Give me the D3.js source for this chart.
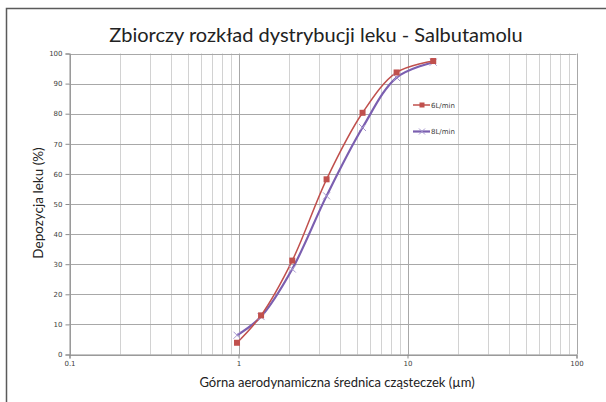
<!DOCTYPE html>
<html>
<head>
<meta charset="utf-8">
<script src="https://cdn.jsdelivr.net/npm/d3@7"></script>
<style>
body { margin: 0; background: #fff; }
</style>
</head>
<body>
<div id="chart"></div>
<script>
var sizes = [0.98, 1.36, 2.08, 3.32, 5.42, 8.62, 14.2];
var flow6 = [3.9, 13.0, 31.2, 58.2, 80.3, 93.7, 97.5];
var flow8 = [6.4, 12.6, 28.4, 52.7, 75.4, 92.0, 97.1];
var seriesNames = ["6L/min", "8L/min"];
var yTicks = [0, 10, 20, 30, 40, 50, 60, 70, 80, 90, 100];
var xTicks = [0.1, 1, 10, 100];

var svgWidth = 606;
var svgHeight = 402;
var svg = d3.select("#chart")
    .append("svg")
    .attr("width", svgWidth)
    .attr("height", svgHeight);

// outer frame (only left and top visible)
svg.append("path")
    .attr("d", "M6.5,402 L6.5,8.5 L606,8.5")
    .attr("fill", "none")
    .attr("stroke", "#5a5a5a")
    .attr("stroke-width", 1.5);

var plot = {left: 69.5, top: 53.5, right: 576.5, bottom: 354.5};

var xScale = d3.scaleLog()
    .domain([0.1, 100])
    .range([plot.left, plot.right]);
var yScale = d3.scaleLinear()
    .domain([0, 100])
    .range([plot.bottom, plot.top]);

var grid = svg.append("g");

// vertical grid at every log tick
var minor = xScale.ticks();
grid.selectAll(".vgrid").data(minor).enter()
    .append("line")
    .attr("x1", d => Math.round(xScale(d)) + 0.5)
    .attr("x2", d => Math.round(xScale(d)) + 0.5)
    .attr("y1", plot.top)
    .attr("y2", plot.bottom)
    .attr("stroke", d => xTicks.indexOf(d) >= 0 ? "#a8a8a8" : "#d2d2d2")
    .attr("stroke-width", 1);

grid.selectAll(".hgrid").data(yTicks).enter()
    .append("line")
    .attr("x1", plot.left)
    .attr("x2", plot.right)
    .attr("y1", d => Math.round(yScale(d)) + 0.5)
    .attr("y2", d => Math.round(yScale(d)) + 0.5)
    .attr("stroke", "#a8a8a8")
    .attr("stroke-width", 1);

var yAxis = d3.axisLeft(yScale)
    .tickValues(yTicks)
    .tickSize(4)
    .tickPadding(3);
var yAxisGroup = svg.append("g")
    .attr("transform", "translate(" + plot.left + ",0)")
    .call(yAxis);

var xAxis = d3.axisBottom(xScale)
    .tickValues(xTicks)
    .tickFormat(d3.format("~g"))
    .tickSize(4)
    .tickPadding(3);
var xAxisGroup = svg.append("g")
    .attr("transform", "translate(0," + plot.bottom + ")")
    .call(xAxis);

[yAxisGroup, xAxisGroup].forEach(function (g) {
    g.selectAll("path, line").attr("stroke", "#8c8c8c");
    g.selectAll("text")
        .attr("fill", "#404040")
        .style("font-family", "'DejaVu Sans', sans-serif")
        .style("font-size", "7px");
});

svg.append("text")
    .attr("x", 316)
    .attr("y", 42)
    .attr("text-anchor", "middle")
    .style("font-family", "Lato, sans-serif")
    .style("font-size", "20px")
    .attr("fill", "#222")
    .text("Zbiorczy rozkład dystrybucji leku - Salbutamolu");

svg.append("text")
    .attr("x", 337)
    .attr("y", 387)
    .attr("text-anchor", "middle")
    .style("font-family", "Lato, sans-serif")
    .style("font-size", "13px")
    .attr("fill", "#222")
    .text("Górna aerodynamiczna średnica cząsteczek (µm)");

svg.append("text")
    .attr("transform", "translate(43,203) rotate(-90)")
    .attr("text-anchor", "middle")
    .style("font-family", "Lato, sans-serif")
    .style("font-size", "13.5px")
    .attr("fill", "#222")
    .text("Depozycja leku (%)");

var line = d3.line()
    .x(d => xScale(d[0]))
    .y(d => yScale(d[1]))
    .curve(d3.curveCatmullRom.alpha(0.5));

var data6 = sizes.map((s, i) => [s, flow6[i]]);
var data8 = sizes.map((s, i) => [s, flow8[i]]);

svg.append("path")
    .datum(data8)
    .attr("d", line)
    .attr("fill", "none")
    .attr("stroke", "#7b5fb0")
    .attr("stroke-width", 2.2);

svg.append("path")
    .datum(data6)
    .attr("d", line)
    .attr("fill", "none")
    .attr("stroke", "#c0504d")
    .attr("stroke-width", 1.5);

svg.selectAll(".m8").data(data8).enter()
    .append("path")
    .attr("transform", d => "translate(" + xScale(d[0]) + "," + yScale(d[1]) + ")")
    .attr("d", "M-3.5,-3.5L3.5,3.5M-3.5,3.5L3.5,-3.5")
    .attr("stroke", "#a797cf")
    .attr("stroke-width", 1);

svg.selectAll(".m6").data(data6).enter()
    .append("rect")
    .attr("x", d => xScale(d[0]) - 3)
    .attr("y", d => yScale(d[1]) - 3)
    .attr("width", 6)
    .attr("height", 6)
    .attr("fill", "#c0504d");

// legend
var legend = svg.append("g");
var legendY = [105, 131.5];
var legendColors = ["#c0504d", "#7b5fb0"];
seriesNames.forEach(function (name, i) {
    var y = legendY[i];
    legend.append("line")
        .attr("x1", 413).attr("x2", 430)
        .attr("y1", y).attr("y2", y)
        .attr("stroke", legendColors[i])
        .attr("stroke-width", i === 0 ? 1.5 : 2.2);
    if (i === 0) {
        legend.append("rect")
            .attr("x", 419.5).attr("y", y - 2.5)
            .attr("width", 5).attr("height", 5)
            .attr("fill", legendColors[i]);
    } else {
        legend.append("path")
            .attr("d", "M419,"+(y-3)+"L425,"+(y+3)+"M419,"+(y+3)+"L425,"+(y-3))
            .attr("stroke", "#a797cf")
            .attr("stroke-width", 1);
    }
    legend.append("text")
        .attr("x", 431)
        .attr("y", y + 2.5)
        .style("font-family", "'DejaVu Sans', sans-serif")
        .style("font-size", "7px")
        .attr("fill", "#404040")
        .text(name);
});
</script>
</body>
</html>
